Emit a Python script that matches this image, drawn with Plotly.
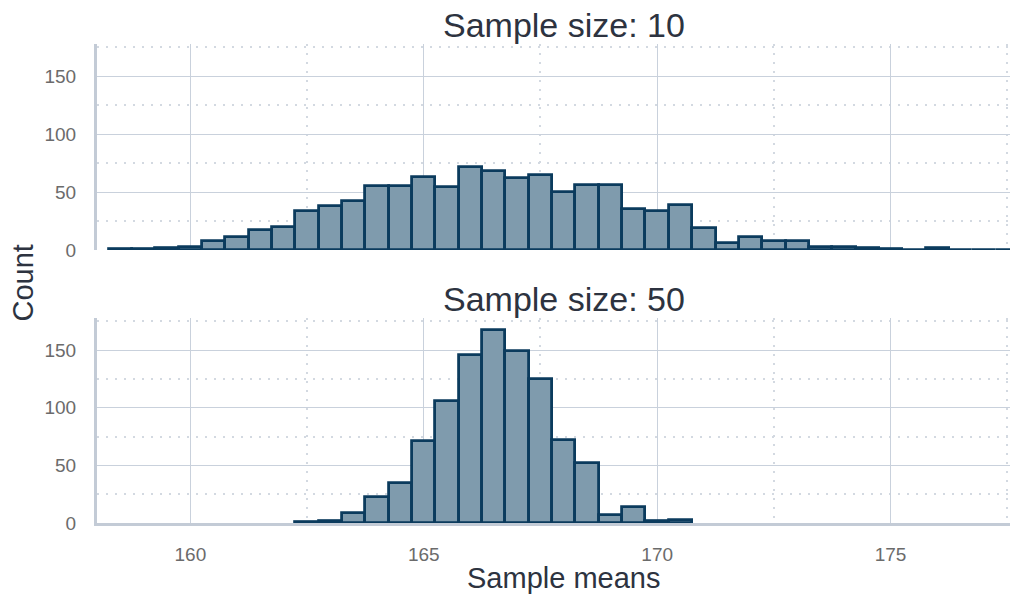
import plotly.graph_objects as go

# Histogram bins (width 0.5) starting at 158.25
bin_start = 158.25
bin_width = 0.5
n_bins = 39

counts_n10 = [1, 1, 2, 3, 8, 11, 17, 20, 34, 38, 42, 55, 55, 63, 54, 72, 68, 62, 65,
              50, 56, 56, 35, 34, 39, 19, 6, 11, 8, 8, 3, 3, 2, 1, 0, 2, 0, 0, 0]
counts_n50 = [0] * 8 + [1, 2, 9, 23, 35, 71, 106, 146, 168, 149, 125, 72, 52, 7, 14, 2, 3] + [0] * 14

titles = ["Sample size: 10", "Sample size: 50"]
x_ticks = [160, 165, 170, 175]
x_minor = [157.5, 162.5, 167.5, 172.5, 177.5]
y_ticks = [0, 50, 100, 150]
y_minor = [25, 75, 125, 175]

centers = [bin_start + bin_width * (i + 0.5) for i in range(n_bins)]

FILL = "#7f9bad"
LINE = "#0b3b5d"
GRID = "#c9d1dc"
MINOR = "#d3d9e1"
AXIS = "#c3cbd6"
TXT = "#2d3340"
TICK = "#6b6b6b"
FONT = "Liberation Sans, Arial"

fig = go.Figure()
for i, counts in enumerate([counts_n10, counts_n50]):
    ax = "" if i == 0 else "2"
    # in the lower panel, empty bins are hidden under the axis line
    yvals = counts if i == 0 else [c if c > 0 else None for c in counts]
    fig.add_trace(go.Bar(x=centers, y=yvals, width=bin_width,
                         marker=dict(color=FILL, line=dict(color=LINE, width=2.8)),
                         xaxis="x" + ax, yaxis="y" + ax, showlegend=False))

xrange = [158.0, 177.73]
common_x = dict(range=xrange, tickvals=x_ticks, showgrid=True, gridcolor=GRID, gridwidth=1,
                minor=dict(tickvals=x_minor, showgrid=True, gridcolor=MINOR, griddash="2px,7px", gridwidth=1.5),
                zeroline=False, tickfont=dict(family=FONT, size=19, color=TICK))
common_y = dict(range=[0, 178], tickvals=y_ticks, showgrid=True, gridcolor=GRID, gridwidth=1,
                minor=dict(tickvals=y_minor, showgrid=True, gridcolor=MINOR, griddash="2px,7px", gridwidth=1.5),
                zeroline=False, showline=True, linecolor=AXIS, linewidth=3,
                ticks="outside", ticklen=14, tickcolor="rgba(0,0,0,0)",
                tickfont=dict(family=FONT, size=19, color=TICK))

fig.update_layout(
    width=1010, height=589,
    margin=dict(l=89, r=0, t=36, b=74),
    paper_bgcolor="white", plot_bgcolor="white",
    bargap=0,
    xaxis=dict(**common_x, anchor="y", showticklabels=False, matches="x2"),
    yaxis=dict(**common_y, domain=[0.570, 1.0], anchor="x"),
    xaxis2=dict(**common_x, anchor="y2", showline=True, linecolor=AXIS, linewidth=3,
                ticks="outside", ticklen=12, tickcolor="rgba(0,0,0,0)"),
    yaxis2=dict(**common_y, domain=[0.0, 0.428], anchor="x2"),
    font=dict(family=FONT),
)

title_y = [1.0, 0.428]
for t, yv in zip(titles, title_y):
    fig.add_annotation(text=t, xref="x", x=168.0, yref="paper", y=yv, yanchor="bottom",
                       showarrow=False, font=dict(size=34, color=TXT), yshift=-2)

fig.add_annotation(text="Sample means", xref="x", x=168.0, yref="paper", y=0, yanchor="top",
                   yshift=-37, showarrow=False, font=dict(size=29, color=TXT))
fig.add_annotation(text="Count", xref="paper", x=0, xanchor="center", xshift=-75,
                   yref="paper", y=0.5, textangle=-90, showarrow=False,
                   font=dict(size=29, color=TXT))

fig.write_html("out.html")
